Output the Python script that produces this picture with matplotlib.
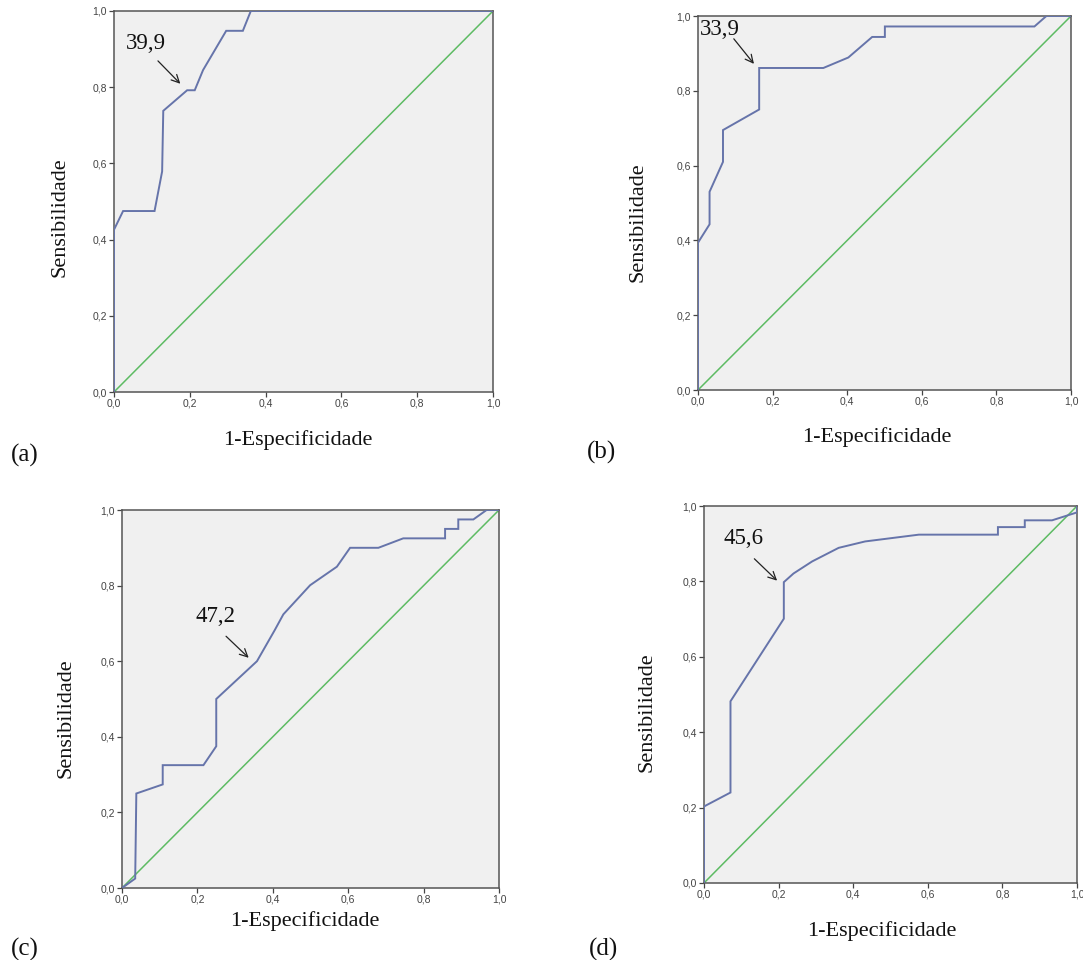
import matplotlib
matplotlib.use("Agg")
import matplotlib.pyplot as plt

W, H = 1083, 960

# ---- data (1-specificity, sensitivity) ----
a_fpr = [0.0, 0.0, 0.024, 0.107, 0.127, 0.130, 0.193, 0.213, 0.235, 0.296, 0.340, 0.361, 1.0]
a_tpr = [0.0, 0.426, 0.475, 0.475, 0.579, 0.738, 0.792, 0.792, 0.845, 0.948, 0.948, 1.0, 1.0]

b_fpr = [0.0, 0.0, 0.031, 0.031, 0.067, 0.067, 0.164, 0.164, 0.336, 0.403, 0.467, 0.501, 0.501, 0.902, 0.934, 1.0]
b_tpr = [0.0, 0.394, 0.443, 0.530, 0.610, 0.695, 0.750, 0.861, 0.861, 0.889, 0.944, 0.944, 0.972, 0.972, 1.0, 1.0]

c_fpr = [0.0, 0.035, 0.038, 0.108, 0.108, 0.216, 0.250, 0.250, 0.358, 0.405, 0.428, 0.499, 0.570, 0.605,
         0.680, 0.746, 0.857, 0.857, 0.892, 0.892, 0.932, 0.967, 1.0]
c_tpr = [0.0, 0.025, 0.250, 0.274, 0.325, 0.325, 0.375, 0.500, 0.600, 0.682, 0.724, 0.801, 0.850, 0.900,
         0.900, 0.925, 0.925, 0.950, 0.950, 0.975, 0.975, 1.0, 1.0]

d_fpr = [0.0, 0.0, 0.071, 0.071, 0.214, 0.214, 0.240, 0.290, 0.361, 0.432, 0.576, 0.788, 0.788, 0.860,
         0.860, 0.933, 1.0, 1.0]
d_tpr = [0.0, 0.203, 0.240, 0.482, 0.701, 0.798, 0.821, 0.853, 0.889, 0.906, 0.924, 0.924, 0.944, 0.944,
         0.962, 0.962, 0.983, 1.0]

cutoffs = ["39,9", "33,9", "47,2", "45,6"]
panel_labels = ["(a)", "(b)", "(c)", "(d)"]
tick_vals = [0.0, 0.2, 0.4, 0.6, 0.8, 1.0]
tick_labels = ["0,0", "0,2", "0,4", "0,6", "0,8", "1,0"]

# ---- layout (pixel boxes: left, top, right, bottom) ----
boxes = [(114, 11, 493, 392), (698, 16, 1071, 390), (122, 510, 499, 888), (704, 506, 1077, 883)]
text_xy = [(0.085, 0.915), (0.058, 0.964), (0.247, 0.718), (0.106, 0.913)]
arrow_from = [(0.116, 0.869), (0.096, 0.939), (0.276, 0.666), (0.135, 0.860)]
arrow_to = [(0.175, 0.809), (0.150, 0.872), (0.336, 0.609), (0.196, 0.802)]
xlabel_pos = [(298, 440), (877, 437), (305, 921), (882, 931)]
ylabel_pos = [(60, 217), (638, 222), (66, 718), (647, 712)]
plabel_pos = [(25, 455), (602, 452), (25, 949), (603, 949)]

curves = [(a_fpr, a_tpr), (b_fpr, b_tpr), (c_fpr, c_tpr), (d_fpr, d_tpr)]

serif = ["Liberation Serif", "DejaVu Serif"]
sans = ["Liberation Sans", "DejaVu Sans"]

fig = plt.figure(figsize=(W / 100, H / 100), dpi=100)
fig.patch.set_facecolor("white")

def fx(x):
    return x / W

def fy(y):
    return 1 - y / H

for i, (l, t, r, b) in enumerate(boxes):
    ax = fig.add_axes([fx(l), fy(b), (r - l) / W, (b - t) / H])
    ax.set_facecolor("#f0f0f0")
    fpr, tpr = curves[i]
    ax.plot([0, 1], [0, 1], color="#5dbb63", lw=1.1, zorder=2)
    ax.plot(fpr, tpr, color="#6674aa", lw=1.4, zorder=3, solid_joinstyle="miter")
    ax.set_xlim(0, 1)
    ax.set_ylim(0, 1)
    ax.set_xticks(tick_vals)
    ax.set_yticks(tick_vals)
    ax.set_xticklabels(tick_labels, fontfamily=sans, fontsize=7.5, color="#444444")
    ax.set_yticklabels(tick_labels, fontfamily=sans, fontsize=7.5, color="#444444")
    ax.tick_params(direction="out", length=3.5, width=0.9, color="#444444", pad=1.5)
    for s in ax.spines.values():
        s.set_color("#555555")
        s.set_linewidth(1.1)
    ax.annotate("", xy=arrow_to[i], xytext=arrow_from[i], textcoords="data",
                arrowprops=dict(arrowstyle="->", color="#222222", lw=0.9,
                                shrinkA=0, shrinkB=0, mutation_scale=14))
    ax.text(text_xy[i][0], text_xy[i][1], cutoffs[i], fontfamily=serif, fontsize=16.5,
            ha="center", va="center", color="#111111", zorder=5)

    xl = xlabel_pos[i]
    fig.text(fx(xl[0]), fy(xl[1]), "1-Especificidade", fontfamily=serif, fontsize=16,
             ha="center", va="center", color="#111111")
    yl = ylabel_pos[i]
    fig.text(fx(yl[0]), fy(yl[1]), "Sensibilidade", fontfamily=serif, fontsize=16,
             ha="center", va="center", rotation=90, color="#111111")
    pl = plabel_pos[i]
    fig.text(fx(pl[0]), fy(pl[1]), panel_labels[i], fontfamily=serif, fontsize=18,
             ha="center", va="center", color="#111111")

fig.savefig("out.png", dpi=100)
